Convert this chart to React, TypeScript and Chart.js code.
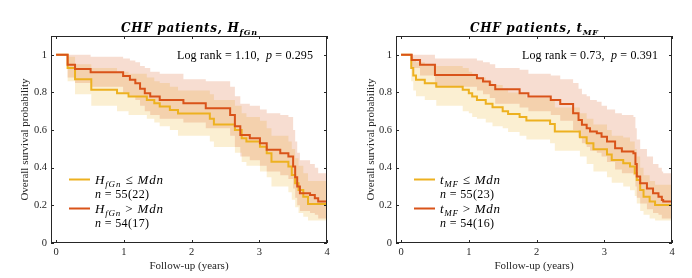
import React, { useEffect, useRef } from "react";
import { Chart, registerables } from "chart.js";
Chart.register(...registerables);

const xTicks = [0, 1, 2, 3, 4];
const yTicks = [0, 0.2, 0.4, 0.6, 0.8, 1];

// ---- Panel 1: H_fGn ----
const hLeTime = [0, 0.17, 0.28, 0.52, 0.9, 1.07, 1.34, 1.45, 1.53, 1.68, 1.8, 2.27, 2.33, 2.64, 2.74, 2.81, 3.01, 3.11, 3.18, 3.43, 3.48, 3.53, 3.58, 3.65, 3.72, 4];
const hLeSurv = [1, 0.93, 0.87, 0.815, 0.796, 0.778, 0.76, 0.743, 0.725, 0.707, 0.688, 0.66, 0.63, 0.6, 0.557, 0.539, 0.512, 0.477, 0.432, 0.406, 0.362, 0.318, 0.282, 0.246, 0.207, 0.207];
const hLeLower = [1, 0.86, 0.79, 0.73, 0.7, 0.68, 0.66, 0.64, 0.62, 0.6, 0.57, 0.54, 0.51, 0.48, 0.43, 0.41, 0.38, 0.35, 0.3, 0.27, 0.23, 0.19, 0.16, 0.14, 0.12, 0.12];
const hLeUpper = [1, 0.99, 0.95, 0.93, 0.91, 0.9, 0.88, 0.86, 0.85, 0.83, 0.81, 0.79, 0.76, 0.73, 0.69, 0.67, 0.65, 0.61, 0.57, 0.54, 0.5, 0.45, 0.41, 0.37, 0.33, 0.33];

const hGtTime = [0, 0.17, 0.28, 0.51, 0.99, 1.09, 1.17, 1.24, 1.31, 1.39, 1.53, 1.88, 2.21, 2.57, 2.64, 2.72, 2.86, 3.01, 3.11, 3.31, 3.43, 3.5, 3.53, 3.56, 3.6, 3.75, 3.82, 3.87, 4];
const hGtSurv = [1, 0.947, 0.924, 0.908, 0.888, 0.867, 0.849, 0.82, 0.796, 0.778, 0.76, 0.743, 0.716, 0.68, 0.62, 0.574, 0.557, 0.53, 0.495, 0.477, 0.459, 0.406, 0.35, 0.3, 0.264, 0.255, 0.238, 0.22, 0.22];
const hGtLower = [1, 0.88, 0.85, 0.83, 0.8, 0.78, 0.76, 0.73, 0.7, 0.68, 0.66, 0.64, 0.61, 0.57, 0.51, 0.46, 0.44, 0.41, 0.38, 0.36, 0.34, 0.29, 0.24, 0.2, 0.17, 0.16, 0.15, 0.13, 0.13];
const hGtUpper = [1, 1, 1, 0.99, 0.98, 0.97, 0.96, 0.94, 0.93, 0.91, 0.9, 0.87, 0.86, 0.83, 0.78, 0.74, 0.73, 0.71, 0.69, 0.68, 0.67, 0.6, 0.54, 0.48, 0.44, 0.42, 0.4, 0.37, 0.37];

// ---- Panel 2: t_MF ----
const tLeTime = [0, 0.15, 0.18, 0.22, 0.35, 0.52, 0.91, 1.0, 1.05, 1.12, 1.25, 1.35, 1.5, 1.58, 1.75, 1.85, 2.2, 2.27, 2.64, 2.74, 2.84, 3.04, 3.11, 3.28, 3.38, 3.45, 3.48, 3.53, 3.58, 3.67, 3.75, 4];
const tLeSurv = [1, 0.93, 0.89, 0.867, 0.849, 0.83, 0.814, 0.796, 0.778, 0.76, 0.74, 0.722, 0.7, 0.685, 0.669, 0.651, 0.633, 0.592, 0.562, 0.53, 0.498, 0.47, 0.441, 0.424, 0.406, 0.37, 0.335, 0.282, 0.246, 0.22, 0.202, 0.202];
const tLeLower = [1, 0.86, 0.81, 0.78, 0.76, 0.73, 0.7, 0.69, 0.67, 0.66, 0.64, 0.62, 0.61, 0.59, 0.57, 0.55, 0.53, 0.49, 0.46, 0.42, 0.38, 0.35, 0.32, 0.3, 0.28, 0.25, 0.21, 0.17, 0.15, 0.13, 0.12, 0.12];
const tLeUpper = [1, 0.99, 0.97, 0.96, 0.95, 0.94, 0.93, 0.91, 0.9, 0.88, 0.86, 0.84, 0.82, 0.8, 0.79, 0.77, 0.76, 0.72, 0.69, 0.66, 0.63, 0.6, 0.57, 0.56, 0.54, 0.5, 0.46, 0.4, 0.36, 0.33, 0.31, 0.31];

const tGtTime = [0, 0.157, 0.28, 0.5, 1.12, 1.21, 1.31, 1.39, 1.75, 1.88, 2.21, 2.35, 2.54, 2.62, 2.67, 2.74, 2.79, 2.89, 2.96, 3.04, 3.16, 3.26, 3.43, 3.46, 3.48, 3.53, 3.63, 3.72, 3.8, 3.85, 3.87, 4];
const tGtSurv = [1, 0.973, 0.947, 0.893, 0.876, 0.858, 0.84, 0.817, 0.796, 0.778, 0.76, 0.739, 0.69, 0.654, 0.628, 0.61, 0.592, 0.583, 0.565, 0.539, 0.504, 0.486, 0.477, 0.42, 0.353, 0.318, 0.29, 0.264, 0.246, 0.229, 0.22, 0.22];
const tGtLower = [1, 0.93, 0.89, 0.83, 0.81, 0.79, 0.77, 0.74, 0.72, 0.7, 0.68, 0.65, 0.6, 0.56, 0.53, 0.51, 0.49, 0.48, 0.46, 0.43, 0.39, 0.37, 0.36, 0.3, 0.24, 0.21, 0.18, 0.16, 0.15, 0.13, 0.13, 0.13];
const tGtUpper = [1, 1, 1, 0.98, 0.97, 0.96, 0.95, 0.93, 0.92, 0.9, 0.89, 0.87, 0.85, 0.82, 0.79, 0.78, 0.76, 0.75, 0.73, 0.71, 0.69, 0.68, 0.67, 0.61, 0.55, 0.5, 0.46, 0.42, 0.4, 0.38, 0.37, 0.37];

const ORANGE = "#EDB120";
const RED = "#D95319";
const ORANGE_BAND = "rgba(237,177,32,0.2)";
const RED_BAND = "rgba(217,83,25,0.2)";
const AXIS = "#262626";
const SERIF = '"Liberation Serif", "DejaVu Serif", serif';
const WIDE_SERIF = '"DejaVu Serif", serif';

type Run = { t: string; it?: boolean; bold?: boolean; sub?: boolean };

function drawRuns(ctx: CanvasRenderingContext2D, runs: Run[], x: number, y: number, size: number, align: string, color: string, target?: number, family: string = SERIF) {
  const fontFor = (r: Run) => `${r.it ? "italic " : ""}${r.bold ? "bold " : ""}${r.sub ? Math.round(size * 0.7) : size}px ${family}`;
  ctx.save();
  let natural = 0;
  let chars = 0;
  for (const r of runs) { ctx.font = fontFor(r); natural += ctx.measureText(r.t).width; chars += r.t.length; }
  const ls = target ? Math.max(-1, Math.min(1.2, (target - natural) / Math.max(1, chars - 1))) : 0;
  const total = natural + ls * (chars - 1);
  let cx = align === "left" ? x : align === "center" ? x - total / 2 : x - total;
  ctx.fillStyle = color;
  ctx.textAlign = "left";
  ctx.textBaseline = "alphabetic";
  for (const r of runs) {
    ctx.font = fontFor(r);
    for (const ch of r.t) {
      ctx.fillText(ch, cx, y + (r.sub ? size * 0.28 : 0));
      cx += ctx.measureText(ch).width + ls;
    }
  }
  ctx.restore();
}

function pts(t: number[], v: number[]) { return t.map((x, i) => ({ x, y: v[i] })); }

type Panel = {
  title: Run[]; logrank: Run[];
  legA: Run[]; nA: Run[]; legB: Run[]; nB: Run[];
  a: [number[], number[], number[], number[]];
  b: [number[], number[], number[], number[]];
  left: number; right: number;
};

const panels: Panel[] = [
  {
    title: [{ t: "CHF patients, ", it: true, bold: true }, { t: "H", it: true, bold: true }, { t: "fGn", it: true, bold: true, sub: true }],
    logrank: [{ t: "Log rank = 1.10,  " }, { t: "p", it: true }, { t: " = 0.295" }],
    legA: [{ t: "H", it: true }, { t: "fGn", it: true, sub: true }, { t: " ≤ " }, { t: "Mdn", it: true }],
    nA: [{ t: "n", it: true }, { t: " = 55(22)" }],
    legB: [{ t: "H", it: true }, { t: "fGn", it: true, sub: true }, { t: " > " }, { t: "Mdn", it: true }],
    nB: [{ t: "n", it: true }, { t: " = 54(17)" }],
    a: [hLeTime, hLeSurv, hLeLower, hLeUpper],
    b: [hGtTime, hGtSurv, hGtLower, hGtUpper],
    left: 51, right: 327,
  },
  {
    title: [{ t: "CHF patients, ", it: true, bold: true }, { t: "t", it: true, bold: true }, { t: "MF", it: true, bold: true, sub: true }],
    logrank: [{ t: "Log rank = 0.73,  " }, { t: "p", it: true }, { t: " = 0.391" }],
    legA: [{ t: "t", it: true }, { t: "MF", it: true, sub: true }, { t: " ≤ " }, { t: "Mdn", it: true }],
    nA: [{ t: "n", it: true }, { t: " = 55(23)" }],
    legB: [{ t: "t", it: true }, { t: "MF", it: true, sub: true }, { t: " > " }, { t: "Mdn", it: true }],
    nB: [{ t: "n", it: true }, { t: " = 54(16)" }],
    a: [tLeTime, tLeSurv, tLeLower, tLeUpper],
    b: [tGtTime, tGtSurv, tGtLower, tGtUpper],
    left: 50, right: 326,
  },
];

const W = 346, H = 278, TOP = 36, BOTTOM = 243;

function PanelChart({ p, idx }: { p: Panel; idx: number }) {
  const ref = useRef<HTMLCanvasElement | null>(null);
  useEffect(() => {
    if (!ref.current) return;
    const deco = {
      id: "deco",
      afterDraw(chart: any) {
        const ctx: CanvasRenderingContext2D = chart.ctx;
        const a = chart.chartArea;
        const xs = chart.scales.x, ys = chart.scales.y;
        ctx.save();
        ctx.strokeStyle = AXIS;
        ctx.lineWidth = 1;
        ctx.strokeRect(a.left + 0.5, a.top + 0.5, a.right - a.left - 1, a.bottom - a.top - 1);
        ctx.beginPath();
        for (const v of xTicks) {
          const px = Math.round(xs.getPixelForValue(v)) + 0.5;
          ctx.moveTo(px, a.bottom); ctx.lineTo(px, a.bottom - 3);
          ctx.moveTo(px, a.top); ctx.lineTo(px, a.top + 3);
        }
        for (const v of yTicks) {
          const py = Math.round(ys.getPixelForValue(v)) + 0.5;
          ctx.moveTo(a.left, py); ctx.lineTo(a.left + 3, py);
          ctx.moveTo(a.right, py); ctx.lineTo(a.right - 3, py);
        }
        ctx.stroke();
        // titles
        const cx = (a.left + a.right) / 2;
        drawRuns(ctx, p.title, cx, 31.5, 12, "center", "#000", idx === 0 ? 136 : 128, WIDE_SERIF);
        drawRuns(ctx, p.logrank, a.right - 14, 59, 12, "right", "#000", 136);
        ctx.fillStyle = AXIS;
        ctx.font = `11px ${SERIF}`;
        ctx.textAlign = "center";
        ctx.textBaseline = "middle";
        ctx.fillText("Follow-up (years)", cx, 266);
        ctx.save();
        ctx.translate(25.5, (a.top + a.bottom) / 2);
        ctx.rotate(-Math.PI / 2);
        ctx.fillText("Overall survival probability", 0, 0);
        ctx.restore();
        // legend
        const lx = a.left + 18;
        ctx.lineWidth = 2;
        ctx.strokeStyle = ORANGE;
        ctx.beginPath(); ctx.moveTo(lx, 179.5); ctx.lineTo(lx + 21, 179.5); ctx.stroke();
        ctx.strokeStyle = RED;
        ctx.beginPath(); ctx.moveTo(lx, 208.5); ctx.lineTo(lx + 21, 208.5); ctx.stroke();
        const tx = lx + 26;
        drawRuns(ctx, p.legA, tx, 183.5, 13, "left", "#000", idx === 0 ? 68 : 60);
        drawRuns(ctx, p.nA, tx, 198, 12, "left", "#000", 54);
        drawRuns(ctx, p.legB, tx, 212.5, 13, "left", "#000", idx === 0 ? 68 : 60);
        drawRuns(ctx, p.nB, tx, 227, 12, "left", "#000", 54);
        ctx.restore();
      },
    };
    const band = (t: number[], v: number[], color: string, fill: any, order: number) => ({
      data: pts(t, v), stepped: true, borderWidth: 0, borderColor: "rgba(0,0,0,0)", backgroundColor: color,
      pointRadius: 0, fill, order,
    });
    const chart = new Chart(ref.current, {
      type: "line",
      data: {
        datasets: [
          band(p.a[0], p.a[2], ORANGE_BAND, false, 5),
          band(p.a[0], p.a[3], ORANGE_BAND, "-1", 4),
          band(p.b[0], p.b[2], RED_BAND, false, 3),
          band(p.b[0], p.b[3], RED_BAND, "-1", 2),
          { data: pts(p.a[0], p.a[1]), stepped: true, borderColor: ORANGE, borderWidth: 2, pointRadius: 0, fill: false, order: 1 },
          { data: pts(p.b[0], p.b[1]), stepped: true, borderColor: RED, borderWidth: 2, pointRadius: 0, fill: false, order: 0 },
        ] as any,
      },
      options: {
        animation: false,
        responsive: false,
        layout: { padding: { left: 0, top: TOP, right: W - p.right, bottom: 0 } },
        plugins: { legend: { display: false }, tooltip: { enabled: false }, title: { display: false } },
        scales: {
          x: {
            type: "linear", min: -0.075, max: 4,
            afterBuildTicks: (s: any) => { s.ticks = xTicks.map((v) => ({ value: v })); },
            afterFit: (s: any) => { s.height = H - BOTTOM; },
            ticks: { padding: 3, color: AXIS, font: { family: SERIF, size: 10.5 }, maxRotation: 0, autoSkip: false, callback: (v: any) => String(v) },
            grid: { display: false, drawTicks: false },
            border: { display: false },
          },
          y: {
            type: "linear", min: 0, max: 1.1,
            afterBuildTicks: (s: any) => { s.ticks = yTicks.map((v) => ({ value: v })); },
            afterFit: (s: any) => { s.width = p.left; },
            ticks: { padding: 4, color: AXIS, font: { family: SERIF, size: 10.5 }, autoSkip: false,
              callback: (v: any) => (v === 0 ? "0" : v === 1 ? "1" : Number(v).toFixed(1)) },
            grid: { display: false, drawTicks: false },
            border: { display: false },
          },
        },
      } as any,
      plugins: [deco],
    });
    return () => chart.destroy();
  }, [p, idx]);
  return <canvas ref={ref} width={W} height={H} style={{ display: "block", width: W, height: H }} />;
}

export default function App() {
  useEffect(() => { document.body.style.margin = "0"; }, []);
  return (
    <div style={{ display: "flex", width: 692, height: 278, background: "#fff" }}>
      {panels.map((p, i) => <PanelChart key={i} p={p} idx={i} />)}
    </div>
  );
}
